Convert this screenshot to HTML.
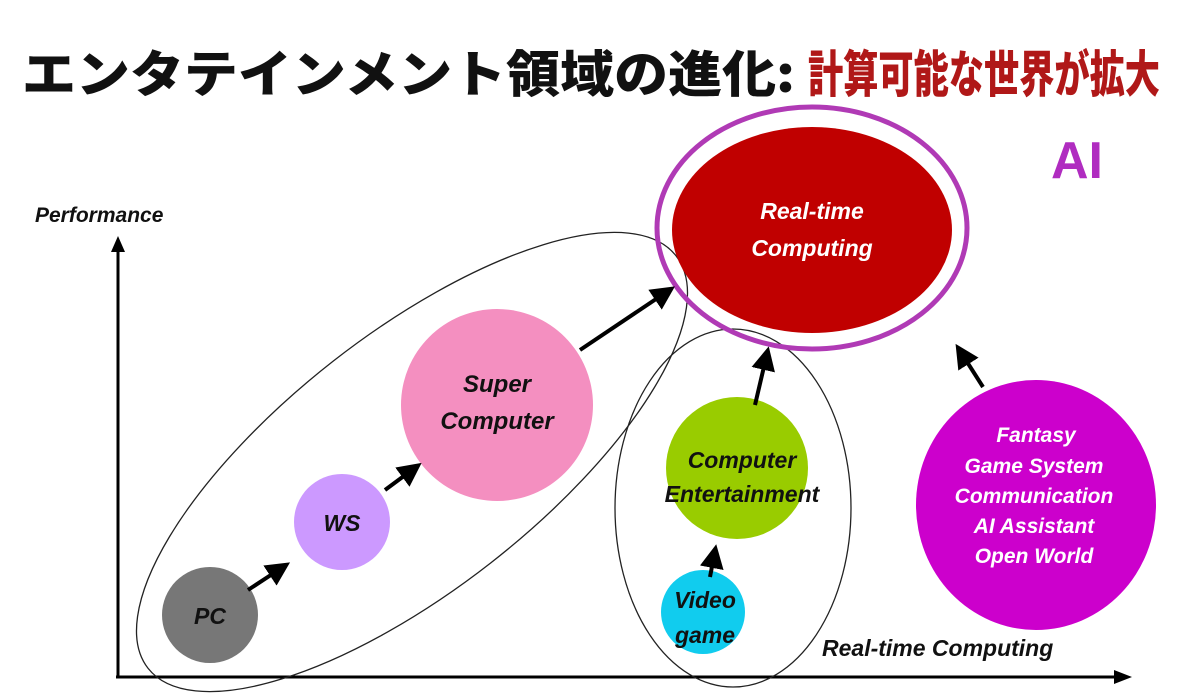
<!DOCTYPE html>
<html><head><meta charset="utf-8"><style>
html,body{margin:0;padding:0;background:#fff;width:1200px;height:699px;overflow:hidden}
svg{display:block}
svg text{font-family:"Liberation Sans","DejaVu Sans",sans-serif;font-weight:bold;font-style:italic}
</style></head><body>
<svg width="1200" height="699" viewBox="0 0 1200 699" xmlns="http://www.w3.org/2000/svg">
<defs>
<marker id="ah" markerWidth="6" markerHeight="6" refX="3" refY="3" orient="auto" markerUnits="strokeWidth">
<path d="M0,0 L6,3 L0,6 z" fill="#000"/></marker>
</defs>
<text x="22" y="92" textLength="773" lengthAdjust="spacingAndGlyphs" style="font-family:'Noto Sans CJK JP',sans-serif;font-style:normal;font-weight:900;font-size:50px" fill="#111">エンタテインメント領域の進化:</text>
<text x="808" y="92" textLength="352" lengthAdjust="spacingAndGlyphs" style="font-family:'Noto Sans CJK JP',sans-serif;font-style:normal;font-weight:900;font-size:50px" fill="#b01818">計算可能な世界が拡大</text>

<line x1="118" y1="677" x2="118" y2="250" stroke="#000" stroke-width="3"/>
<path d="M111,252 L118,236 L125,252 z" fill="#000"/>
<line x1="116" y1="677" x2="1118" y2="677" stroke="#000" stroke-width="3"/>
<path d="M1114,670 L1132,677 L1114,684 z" fill="#000"/>
<text x="35" y="222" font-size="21" fill="#111">Performance</text>
<text x="822" y="656" font-size="23" fill="#111">Real-time Computing</text>

<ellipse cx="412" cy="462" rx="335" ry="128" transform="rotate(-38 412 462)" fill="none" stroke="#222" stroke-width="1.3"/>
<ellipse cx="733" cy="508" rx="118" ry="179" fill="none" stroke="#222" stroke-width="1.3"/>

<ellipse cx="812" cy="230" rx="140" ry="103" fill="#c00000"/>
<ellipse cx="812" cy="228" rx="155" ry="121" fill="none" stroke="#b03ab5" stroke-width="5"/>
<text x="812" y="219" font-size="23" fill="#fff" text-anchor="middle">Real-time</text>
<text x="812" y="256" font-size="23" fill="#fff" text-anchor="middle">Computing</text>
<text x="1077" y="178" font-size="52" fill="#b02cc0" text-anchor="middle" style="font-style:normal">AI</text>

<circle cx="210" cy="615" r="48" fill="#777"/>
<text x="210" y="624" font-size="23" fill="#111" text-anchor="middle">PC</text>
<circle cx="342" cy="522" r="48" fill="#cc99ff"/>
<text x="342" y="531" font-size="23" fill="#111" text-anchor="middle">WS</text>
<circle cx="497" cy="405" r="96" fill="#f48fc0"/>
<text x="497" y="392" font-size="24" fill="#111" text-anchor="middle">Super</text>
<text x="497" y="429" font-size="24" fill="#111" text-anchor="middle">Computer</text>

<circle cx="737" cy="468" r="71" fill="#99cc00"/>
<text x="742" y="468" font-size="23" fill="#111" text-anchor="middle">Computer</text>
<text x="742" y="502" font-size="23" fill="#111" text-anchor="middle">Entertainment</text>
<circle cx="703" cy="612" r="42" fill="#11ccee"/>
<text x="705" y="608" font-size="23" fill="#111" text-anchor="middle">Video</text>
<text x="705" y="643" font-size="23" fill="#111" text-anchor="middle">game</text>

<ellipse cx="1036" cy="505" rx="120" ry="125" fill="#cc00cc"/>
<g font-size="21" fill="#fff" text-anchor="middle">
<text x="1036" y="442">Fantasy</text>
<text x="1034" y="473">Game System</text>
<text x="1034" y="503">Communication</text>
<text x="1034" y="533">AI Assistant</text>
<text x="1034" y="563">Open World</text>
</g>

<g stroke="#000" stroke-width="4" marker-end="url(#ah)">
<line x1="248" y1="590" x2="280" y2="569"/>
<line x1="385" y1="490" x2="412" y2="470"/>
<line x1="580" y1="350" x2="665" y2="293"/>
<line x1="710" y1="577" x2="714" y2="556"/>
<line x1="755" y1="405" x2="766" y2="358"/>
<line x1="983" y1="387" x2="962" y2="354"/>
</g>
</svg>
</body></html>
